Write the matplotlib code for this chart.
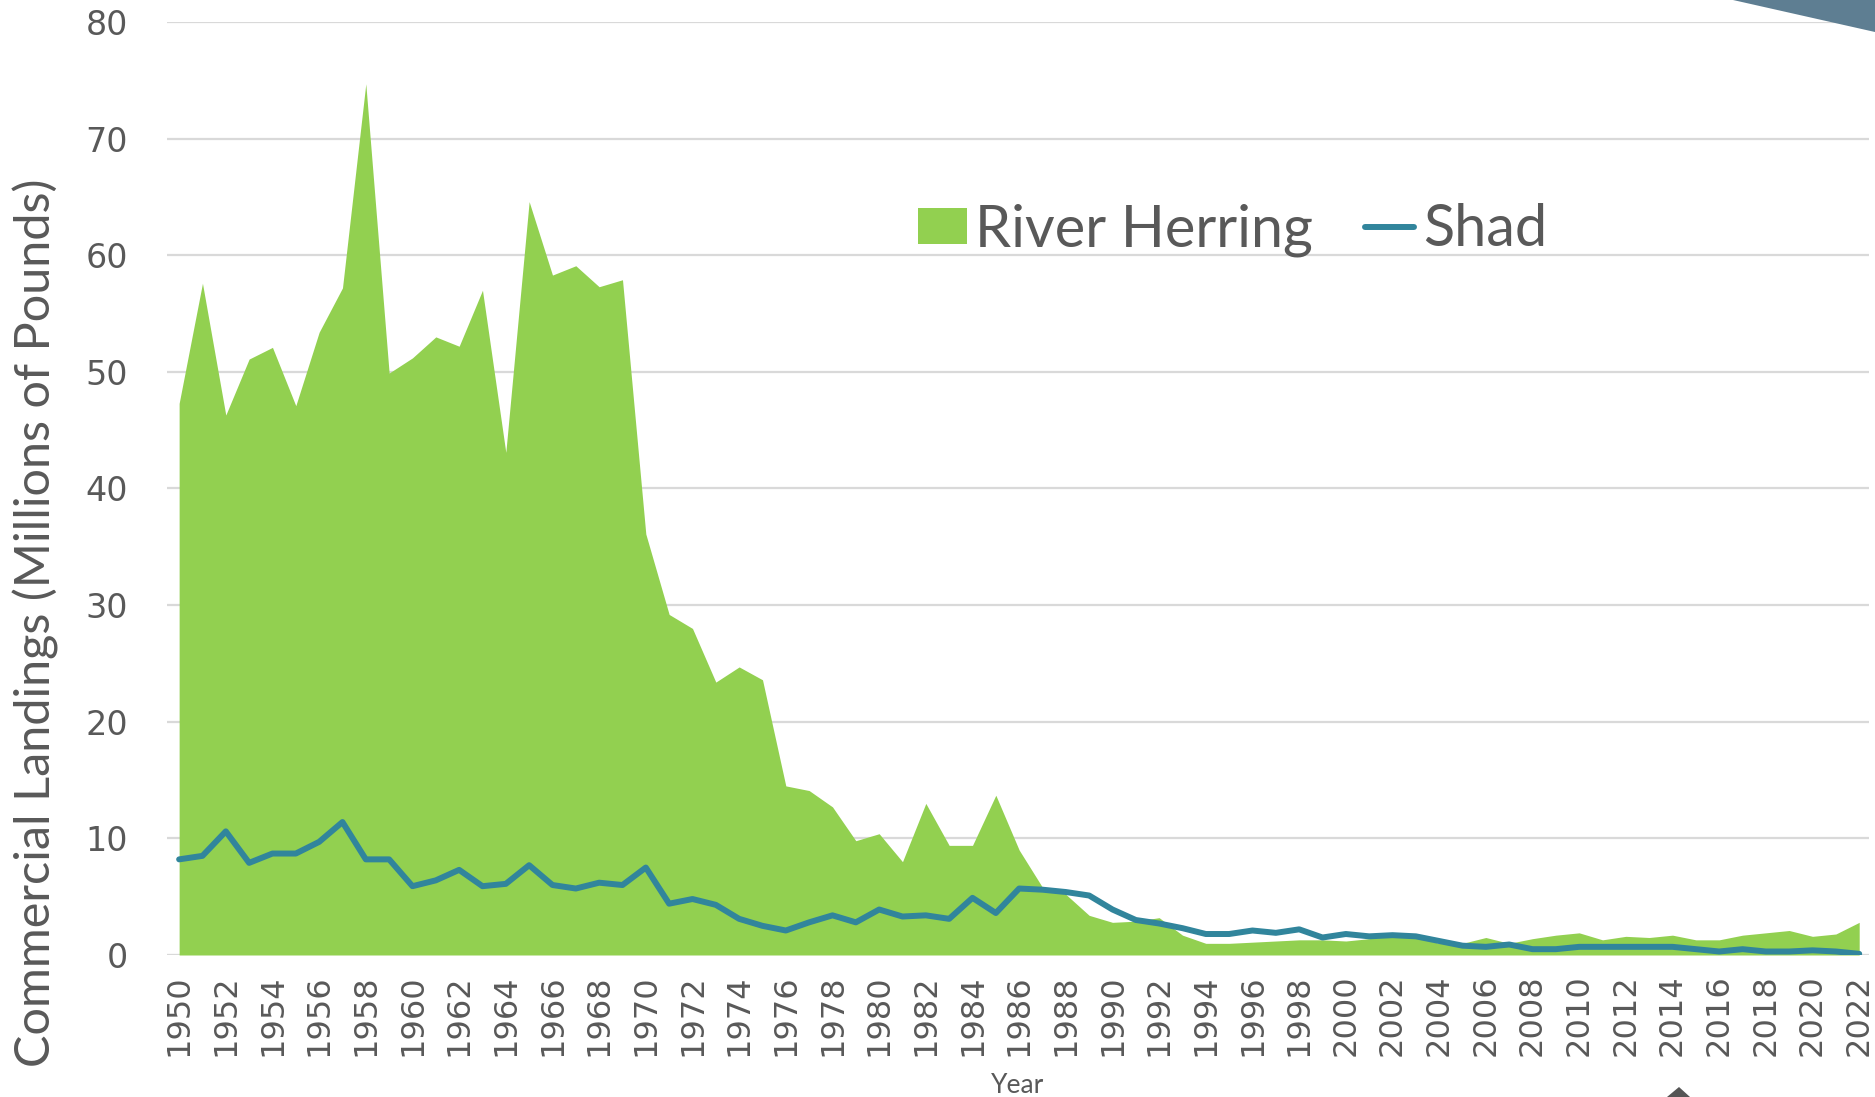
# -*- coding: utf-8 -*-
"""Commercial landings of river herring and shad, 1950-2022"""

import matplotlib
matplotlib.use('Agg')
import matplotlib.pyplot as plt
from matplotlib.patches import Patch, Polygon
from matplotlib.lines import Line2D

# Data (millions of pounds)
years = list(range(1950, 2023))

river_herring = [
    47.3, 57.6, 46.3, 51.1, 52.1, 47.1, 53.4, 57.2, 74.7, 49.9,
    51.2, 53.0, 52.2, 57.0, 43.1, 64.6, 58.3, 59.1, 57.3, 57.9,
    36.1, 29.2, 28.0, 23.4, 24.7, 23.6, 14.5, 14.1, 12.7, 9.8,
    10.4, 8.0, 13.0, 9.4, 9.4, 13.7, 9.0, 5.8, 5.2, 3.4,
    2.8, 2.9, 3.2, 1.7, 1.0, 1.0, 1.1, 1.2, 1.3, 1.3,
    1.2, 1.4, 1.8, 1.5, 1.0, 1.0, 1.5, 1.0, 1.4, 1.7,
    1.9, 1.3, 1.6, 1.5, 1.7, 1.3, 1.3, 1.7, 1.9, 2.1,
    1.6, 1.8, 2.8,
]

shad = [
    8.2, 8.5, 10.6, 7.9, 8.7, 8.7, 9.7, 11.4, 8.2, 8.2,
    5.9, 6.4, 7.3, 5.9, 6.1, 7.7, 6.0, 5.7, 6.2, 6.0,
    7.5, 4.4, 4.8, 4.3, 3.1, 2.5, 2.1, 2.8, 3.4, 2.8,
    3.9, 3.3, 3.4, 3.1, 4.9, 3.6, 5.7, 5.6, 5.4, 5.1,
    3.9, 3.0, 2.7, 2.3, 1.8, 1.8, 2.1, 1.9, 2.2, 1.5,
    1.8, 1.6, 1.7, 1.6, 1.2, 0.8, 0.7, 0.9, 0.5, 0.5,
    0.7, 0.7, 0.7, 0.7, 0.7, 0.5, 0.3, 0.5, 0.3, 0.3,
    0.4, 0.3, 0.1,
]

y_ticks = list(range(0, 90, 10))
x_ticks = years[::2]

# Styles
green = '#92D050'
teal = '#31859C'
grey_txt = '#595959'
grid_col = '#D9D9D9'
W, H = 1875, 1097

fig = plt.figure(figsize=(W / 100, H / 100), dpi=100)
ax = fig.add_axes([167 / W, 1 - 955 / H, (1869 - 167) / W, (955 - 22) / H])

ax.fill_between(years, river_herring, 0, color=green, linewidth=0, zorder=2)
ax.plot(years, shad, color=teal, linewidth=4.3, solid_joinstyle='round',
        solid_capstyle='round', zorder=3)

ax.set_xlim(1949.48, 2022.42)
ax.set_ylim(0, 80)
ax.set_yticks(y_ticks)
ax.set_xticks(x_ticks)
ax.set_xticklabels([str(y) for y in x_ticks], rotation=90)

ax.grid(axis='y', color=grid_col, linewidth=1.6, zorder=0)
ax.set_axisbelow(True)
for s in ax.spines.values():
    s.set_visible(False)
ax.axhline(0, color=grid_col, linewidth=2.2, zorder=1)

ax.tick_params(axis='both', length=0, colors=grey_txt)
ax.tick_params(axis='y', labelsize=24, pad=28)
ax.tick_params(axis='x', labelsize=23, pad=14)
for lab in ax.get_xticklabels() + ax.get_yticklabels():
    lab.set_family('DejaVu Sans')

ax.set_xlabel('Year', family='Lato', fontsize=19, color=grey_txt, labelpad=12)
fig.text(36 / W, 1 - 623 / H, 'Commercial Landings (Millions of Pounds)',
         family='Lato', fontsize=35, color=grey_txt, rotation=90,
         ha='center', va='center')

# Legend
handles = [Patch(facecolor=green, edgecolor='none'),
           Line2D([0], [0], color=teal, linewidth=4.3, solid_capstyle='round')]
leg = ax.legend(handles, ['River Herring', 'Shad'], loc='center',
                bbox_to_anchor=(0.626, 0.777), ncol=2, frameon=False,
                prop={'family': 'Lato', 'size': 41.5},
                handlelength=0.85, handleheight=0.6, handletextpad=0.15,
                columnspacing=0.9, borderpad=0)
for t in leg.get_texts():
    t.set_color(grey_txt)

# Decorative corner shapes
fig.patches.append(Polygon([(1733 / W, 1), (1, 1), (1, 1 - 32 / H)],
                           closed=True, transform=fig.transFigure,
                           facecolor='#5E7E92', edgecolor='none'))
fig.patches.append(Polygon([(1667 / W, 0), (1679 / W, 10 / H), (1690 / W, 0)],
                           closed=True, transform=fig.transFigure,
                           facecolor='#555555', edgecolor='none'))

fig.savefig('out.png', dpi=100)
